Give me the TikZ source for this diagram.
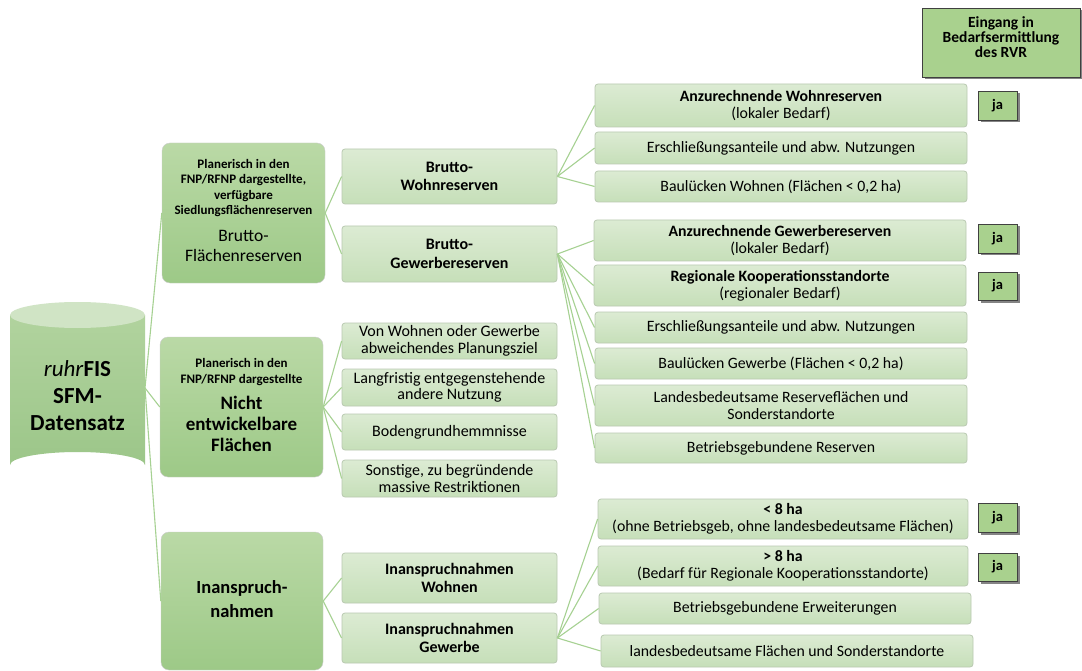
\documentclass[tikz,border=0pt]{standalone}
\usepackage{fontspec}
\setmainfont{Carlito}
\usetikzlibrary{shadows}
\definecolor{edgec}{HTML}{A6D192}
\definecolor{bigtop}{HTML}{BAD9A6}
\definecolor{bigbot}{HTML}{9DC987}
\definecolor{midtop}{HTML}{DCEBD3}
\definecolor{midbot}{HTML}{C6DFB9}
\definecolor{midline}{HTML}{B9C9B1}
\definecolor{jafill}{HTML}{A9D18E}
\definecolor{cyltop}{HTML}{D0E4C5}
\definecolor{cylbody}{HTML}{B1D39E}
\definecolor{cylbot}{HTML}{9CC689}
\newcommand\mybox[7]{\node[#6, minimum width={(#4-#2)*1pt}, minimum height={(#5-#3)*1pt}] (#1) at ({(#2+#4)/2},{(#3+#5)/2}) {#7};}
\begin{document}
\begin{tikzpicture}[x=1pt,y=-1pt,
  edge/.style={draw=edgec, line width=1.1pt},
  bigbox/.style={rounded corners=8pt, top color=bigtop, bottom color=bigbot, draw=black!20, inner sep=0pt},
  midbox/.style={rounded corners=3pt, top color=midtop, bottom color=midbot, draw=midline, line width=0.8pt, inner sep=0pt, align=center, font=\fontsize{15.8}{17}\selectfont},
  mboxb/.style={midbox, font=\bfseries\fontsize{16}{18.5}\selectfont},
  mboxs/.style={midbox, font=\fontsize{16}{16.5}\selectfont},
  jabox/.style={fill=jafill, draw=black!75, line width=0.8pt, inner sep=0pt, align=center, font=\bfseries\fontsize{14.5}{15}\selectfont, drop shadow={shadow xshift=2.5pt, shadow yshift=-2.5pt, opacity=0.6, fill=black!80}},
  smtext/.style={align=center, inner sep=0pt, font=\bfseries\fontsize{13}{15.5}\selectfont},
  lgtext/.style={align=center, inner sep=0pt, font=\fontsize{17.5}{20.5}\selectfont},
  lgbold/.style={align=center, inner sep=0pt, font=\bfseries\fontsize{19}{21}\selectfont}]
\useasboundingbox (0,0) rectangle (1082,671);
\fill[white] (0,0) rectangle (1082,671);

% cylinder
\shade[top color=cylbody, bottom color=cylbot]
  (10,315) -- (10,465) arc[start angle=180, end angle=360, x radius=67.5, y radius=13] -- (145,315) -- cycle;
\fill[cyltop] (77.5,315) ellipse[x radius=67.5, y radius=13];
\node[align=center, inner sep=0pt, font=\bfseries\fontsize{23}{27}\selectfont] (cyl) at (77.5,396) {\textit{\mdseries ruhr}FIS\\SFM-\\Datensatz};
\coordinate (cylc) at (145,388);

% header
\mybox{head}{922}{8}{1080}{77}{jabox}{}
\node[align=center, inner sep=0pt, font=\bfseries\fontsize{15.5}{15}\selectfont] (headt) at (1001,37) {Eingang in\\Bedarfsermittlung\\des RVR};

% level 1
\mybox{b1}{162}{143}{325}{283}{bigbox}{}
\node[smtext] (b1s) at (243.5,188) {Planerisch in den\\FNP/RFNP dargestellte,\\verfügbare\\Siedlungsflächenreserven};
\node[lgtext] (b1l) at (243.5,246) {Brutto-\\Flächenreserven};
\mybox{b2}{160}{337}{323}{477}{bigbox}{}
\node[smtext] (b2s) at (241.5,372) {Planerisch in den\\FNP/RFNP dargestellte};
\node[lgbold] (b2l) at (241.5,424) {Nicht\\entwickelbare\\Flächen};
\mybox{b3}{161}{532}{323}{670}{bigbox}{}
\node[lgbold, font=\bfseries\fontsize{18.5}{24}\selectfont] (b3l) at (242,599) {Inanspruch-\\nahmen};

% level 2
\mybox{bw}{342}{149}{557}{204}{mboxb}{Brutto-\\Wohnreserven}
\mybox{bg}{342}{226}{557}{282}{mboxb}{Brutto-\\Gewerbereserven}
\mybox{n1}{342}{323}{557}{359}{mboxs}{Von Wohnen oder Gewerbe\\abweichendes Planungsziel}
\mybox{n2}{342}{369}{557}{406}{mboxs}{Langfristig entgegenstehende\\andere Nutzung}
\mybox{n3}{342}{414}{557}{450}{mboxs}{Bodengrundhemmnisse}
\mybox{n4}{342}{460}{557}{497}{mboxs}{Sonstige, zu begründende\\massive Restriktionen}
\mybox{iw}{342}{553}{557}{603}{mboxb}{Inanspruchnahmen\\Wohnen}
\mybox{ig}{342}{613}{557}{663}{mboxb}{Inanspruchnahmen\\Gewerbe}

% level 3 - Wohnen
\mybox{w1}{595}{84}{967}{127}{midbox}{\textbf{Anzurechnende Wohnreserven}\\(lokaler Bedarf)}
\mybox{w2}{595}{132}{967}{164}{midbox}{Erschließungsanteile und abw. Nutzungen}
\mybox{w3}{595}{171}{967}{202}{midbox}{Baulücken Wohnen (Flächen < 0,2 ha)}
% level 3 - Gewerbe
\mybox{g1}{594}{220}{966}{261}{midbox}{\textbf{Anzurechnende Gewerbereserven}\\(lokaler Bedarf)}
\mybox{g2}{594}{265}{966}{306}{midbox}{\textbf{Regionale Kooperationsstandorte}\\(regionaler Bedarf)}
\mybox{g3}{595}{312}{967}{343}{midbox}{Erschließungsanteile und abw. Nutzungen}
\mybox{g4}{595}{348}{967}{379}{midbox}{Baulücken Gewerbe (Flächen < 0,2 ha)}
\mybox{g5}{595}{385}{967}{426}{midbox}{Landesbedeutsame Reserveflächen und\\Sonderstandorte}
\mybox{g6}{595}{433}{967}{463}{midbox}{Betriebsgebundene Reserven}
% level 3 - Inanspruchnahmen Gewerbe
\mybox{i1}{598}{499}{968}{539}{midbox}{\textbf{< 8 ha}\\(ohne Betriebsgeb, ohne landesbedeutsame Flächen)}
\mybox{i2}{598}{546}{968}{586}{midbox}{\textbf{> 8 ha}\\(Bedarf für Regionale Kooperationsstandorte)}
\mybox{i3}{599}{593}{971}{624}{midbox}{Betriebsgebundene Erweiterungen}
\mybox{i4}{601}{635}{973}{667}{midbox}{landesbedeutsame Flächen und Sonderstandorte}

% ja boxes
\mybox{j1}{978}{91}{1017}{120}{jabox}{ja}
\mybox{j2}{978}{224}{1017}{253}{jabox}{ja}
\mybox{j3}{978}{272}{1017}{300}{jabox}{ja}
\mybox{j4}{978}{503}{1017}{532}{jabox}{ja}
\mybox{j5}{978}{553}{1017}{581}{jabox}{ja}

% connectors
\foreach \t in {b1,b2,b3} \draw[edge] (cylc) -- (\t.west);
\foreach \t in {bw,bg} \draw[edge] (b1.east) -- (\t.west);
\foreach \t in {n1,n2,n3,n4} \draw[edge] (b2.east) -- (\t.west);
\foreach \t in {iw,ig} \draw[edge] (b3.east) -- (\t.west);
\foreach \t in {w1,w2,w3} \draw[edge] (bw.east) -- (\t.west);
\foreach \t in {g1,g2,g3,g4,g5,g6} \draw[edge] (bg.east) -- (\t.west);
\foreach \t in {i1,i2,i3,i4} \draw[edge] (ig.east) -- (\t.west);
\end{tikzpicture}
\end{document}
